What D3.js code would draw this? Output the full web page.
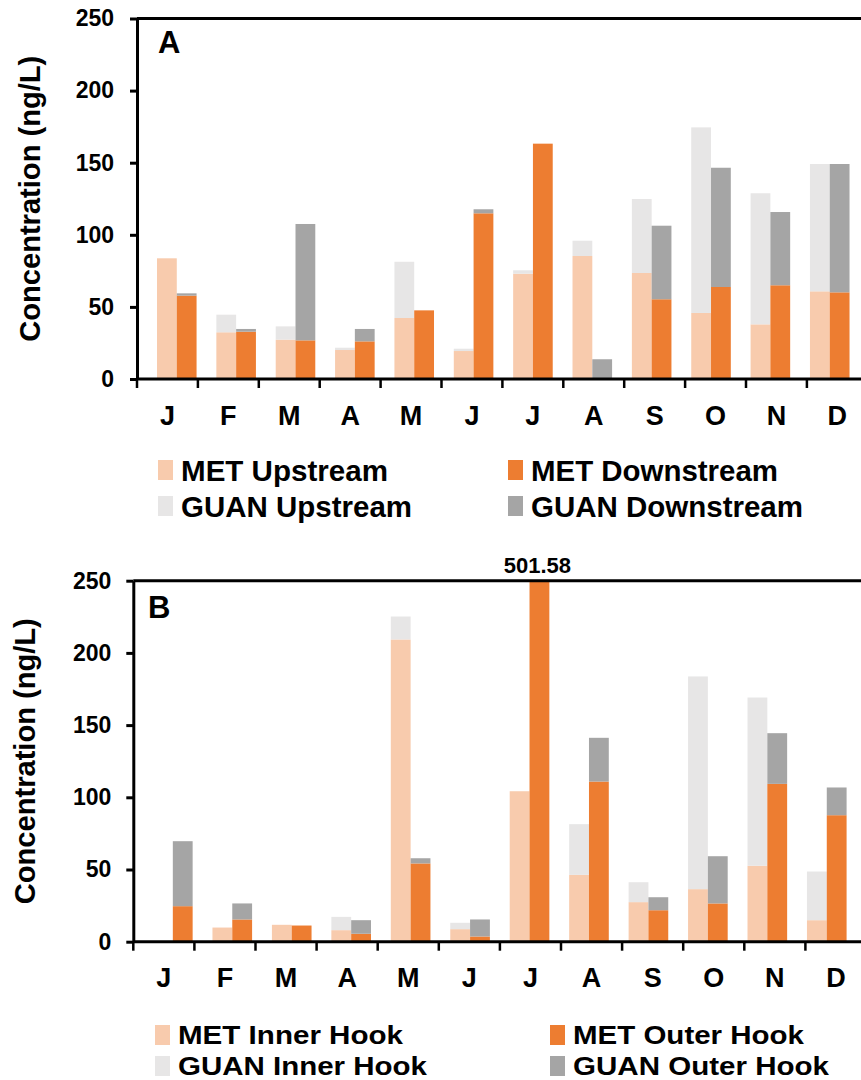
<!DOCTYPE html>
<html>
<head>
<meta charset="utf-8">
<script src="https://cdn.jsdelivr.net/npm/d3@7"></script>
<style>
  body { margin: 0; background: #fff; }
  text { font-family: "Liberation Sans", Arial, sans-serif; font-weight: bold; fill: #000; }
</style>
</head>
<body>
<div id="content"></div>
<script>
var months = ["J", "F", "M", "A", "M", "J", "J", "A", "S", "O", "N", "D"];
var yTicks = [0, 50, 100, 150, 200, 250];

// panel A - upstream / downstream (ng/L)
var metUpstream = [83.7, 32.4, 27.3, 20.1, 42.3, 19.4, 73.0, 85.3, 73.5, 45.8, 37.9, 60.8];
var guanUpstream = [0, 12.2, 9.2, 1.6, 39.0, 1.6, 2.4, 10.6, 51.3, 128.7, 90.9, 88.3];
var metDownstream = [57.8, 32.8, 26.8, 26.1, 47.6, 114.9, 163.2, 0, 55.3, 63.8, 65.0, 60.1];
var guanDownstream = [1.6, 1.9, 80.7, 8.6, 0, 2.8, 0, 13.7, 51.0, 82.7, 50.8, 89.0];

// panel B - inner / outer hook (ng/L)
var metInner = [0, 9.8, 11.7, 8.0, 209.3, 8.7, 104.2, 46.3, 27.4, 36.4, 52.6, 14.9];
var guanInner = [0, 0, 0, 9.2, 15.9, 4.4, 0, 35.1, 13.8, 147.3, 116.5, 33.7];
var metOuter = [24.6, 15.4, 11.2, 5.5, 54.2, 3.6, 501.58, 110.9, 21.8, 26.5, 109.3, 87.6];
var guanOuter = [45.0, 11.1, 0, 9.4, 3.6, 11.8, 0, 30.3, 9.0, 32.7, 35.1, 19.2];

var legendA = ["MET Upstream", "MET Downstream", "GUAN Upstream", "GUAN Downstream"];
var legendB = ["MET Inner Hook", "MET Outer Hook", "GUAN Inner Hook", "GUAN Outer Hook"];

var colMetLight = "#F8CBAD", colMetDark = "#ED7D31", colGuanLight = "#E7E6E6", colGuanDark = "#A5A5A5";

var svg = d3.select("#content").append("svg")
    .attr("width", 861)
    .attr("height", 1080);

function drawPanel(p) {
    var g = svg.append("g");

    var y = d3.scaleLinear().domain([0, 250]).range([p.bottom, p.top]).clamp(true);
    var xAxisScale = d3.scaleBand().domain(d3.range(12)).range([p.left, p.left + 12 * p.tickStep]);
    var xBar = d3.scaleBand().domain(d3.range(12)).range([p.barStart, p.barStart + 12 * p.barStep]);
    var sub = d3.scaleBand().domain(["a", "b"]).range([0, xBar.bandwidth()]).paddingOuter(0.5);

    var sides = [
        { key: "a", met: p.metA, guan: p.guanA, c1: colMetLight, c2: colGuanLight },
        { key: "b", met: p.metB, guan: p.guanB, c1: colMetDark, c2: colGuanDark }
    ];
    sides.forEach(function (s) {
        var rows = d3.range(12).map(function (i) { return { i: i, met: s.met[i], guan: s.guan[i] }; });
        var layers = d3.stack().keys(["met", "guan"])(rows);
        layers.forEach(function (layer) {
            g.append("g")
                .attr("fill", layer.key == "met" ? s.c1 : s.c2)
                .selectAll("rect")
                .data(layer.filter(function (d) { return d[1] > d[0]; }))
                .enter()
                .append("rect")
                .attr("x", function (d) { return xBar(d.data.i) + sub(s.key); })
                .attr("width", sub.bandwidth())
                .attr("y", function (d) { return y(d[1]); })
                .attr("height", function (d) { return y(d[0]) - y(d[1]); });
        });
    });

    // value label for the clipped bar
    if (p.note) {
        g.append("text")
            .attr("x", xBar(p.note.i) + sub("b") + sub.bandwidth() / 2 - 2)
            .attr("y", p.top - 8)
            .attr("text-anchor", "middle")
            .style("font-size", "22px")
            .text(p.note.text);
    }

    // top border
    g.append("line")
        .attr("x1", p.left).attr("x2", 861)
        .attr("y1", p.top).attr("y2", p.top)
        .attr("stroke", "#000").attr("stroke-width", 3);

    // y axis
    var yAxis = d3.axisLeft(y).tickValues(yTicks).tickSize(7).tickSizeOuter(0).tickPadding(p.tickPad);
    var ya = g.append("g")
        .attr("transform", "translate(" + p.left + ",0)")
        .call(yAxis);
    ya.select(".domain").attr("stroke-width", 3);
    ya.selectAll(".tick line").attr("stroke-width", 3);
    ya.selectAll(".tick text").style("font-size", "23px").attr("fill", "#000");

    // x axis line, ticks on category boundaries and month labels
    g.append("line")
        .attr("x1", p.left).attr("x2", 870)
        .attr("y1", p.bottom).attr("y2", p.bottom)
        .attr("stroke", "#000").attr("stroke-width", 3);
    g.selectAll(".xtick")
        .data(d3.range(12))
        .enter()
        .append("line")
        .attr("x1", function (d) { return xAxisScale(d); })
        .attr("x2", function (d) { return xAxisScale(d); })
        .attr("y1", p.bottom)
        .attr("y2", p.bottom + 9)
        .attr("stroke", "#000").attr("stroke-width", 2.5);
    g.selectAll(".xlab")
        .data(months)
        .enter()
        .append("text")
        .attr("x", function (d, i) { return xAxisScale(i) + xAxisScale.bandwidth() / 2; })
        .attr("y", p.monthBase)
        .attr("text-anchor", "middle")
        .style("font-size", "27px")
        .text(function (d) { return d; });

    // y title
    g.append("text")
        .attr("transform", "translate(" + p.titleX + "," + (p.top + p.bottom) / 2 + ") rotate(-90)")
        .attr("text-anchor", "middle")
        .attr("textLength", 286)
        .attr("lengthAdjust", "spacingAndGlyphs")
        .style("font-size", "29px")
        .text("Concentration (ng/L)");

    // panel letter
    g.append("text")
        .attr("x", p.letterX).attr("y", p.letterY)
        .style("font-size", "31px")
        .text(p.letter);

    // legend
    var legColors = [colMetLight, colMetDark, colGuanLight, colGuanDark];
    p.legend.forEach(function (name, i) {
        var cx = p.legCols[i % 2];
        var mid = p.legRows[Math.floor(i / 2)];
        g.append("rect")
            .attr("x", cx).attr("y", mid - 10)
            .attr("width", 15).attr("height", 20)
            .attr("fill", legColors[i]);
        g.append("text")
            .attr("x", cx + 23).attr("y", mid + p.legFont * 0.358)
            .attr("textLength", p.legWidths[i])
            .attr("lengthAdjust", "spacingAndGlyphs")
            .style("font-size", p.legFont + "px")
            .text(name);
    });
}

drawPanel({
    top: 18.5, bottom: 379, left: 137, tickStep: 60.9,
    barStart: 147.1, barStep: 59.36, tickPad: 16,
    metA: metUpstream, guanA: guanUpstream, metB: metDownstream, guanB: guanDownstream,
    monthBase: 425, titleX: 39.5, letter: "A", letterX: 158, letterY: 53,
    legend: legendA, legCols: [158, 508], legRows: [470, 506],
    legFont: 29.5, legWidths: [207, 247, 231, 272]
});

drawPanel({
    top: 580.7, bottom: 941.7, left: 133.3, tickStep: 61.1,
    barStart: 143.1, barStep: 59.45, tickPad: 15,
    metA: metInner, guanA: guanInner, metB: metOuter, guanB: guanOuter,
    note: { i: 6, text: "501.58" },
    monthBase: 987, titleX: 35, letter: "B", letterX: 148, letterY: 618,
    legend: legendB, legCols: [155, 550], legRows: [1035, 1066],
    legFont: 26.5, legWidths: [225, 231, 249, 256]
});
</script>
</body>
</html>
